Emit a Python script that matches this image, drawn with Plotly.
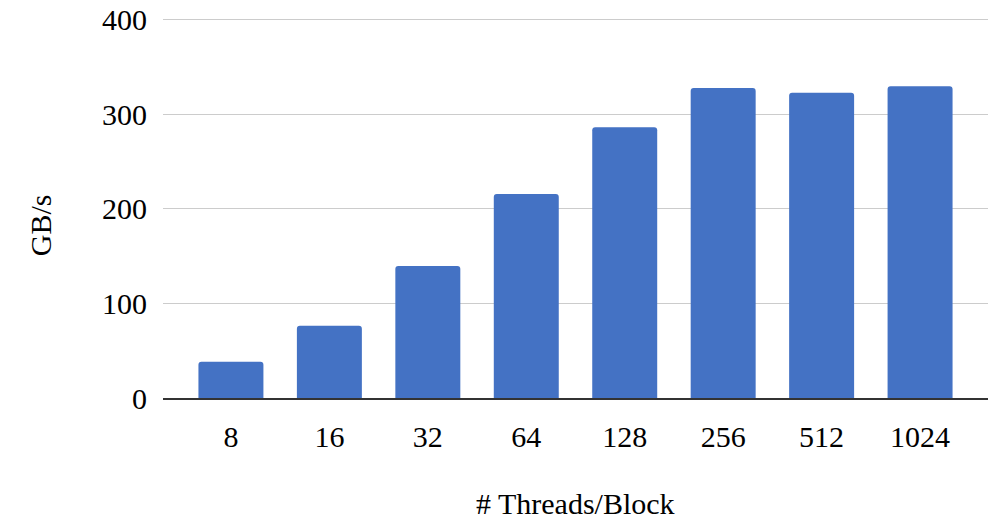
import plotly.graph_objects as go

categories = ["8", "16", "32", "64", "128", "256", "512", "1024"]
gbps = [38.4, 76.5, 139.7, 215.9, 286.4, 328.0, 322.8, 329.8]
y_ticks = [0, 100, 200, 300, 400]

FONT = "Liberation Serif, Times New Roman, serif"
FS = 30

fig = go.Figure()
fig.add_trace(go.Bar(
    x=list(range(len(categories))),
    y=gbps,
    width=0.66,
    marker=dict(color="#4472C4", cornerradius=3, line=dict(width=0)),
))

fig.update_layout(
    width=992, height=519,
    margin=dict(l=163, r=4, t=18, b=121, autoexpand=False),
    paper_bgcolor="white", plot_bgcolor="white",
    font=dict(family=FONT, size=FS, color="black"),
    showlegend=False,
)
fig.update_xaxes(
    tickmode="array", tickvals=list(range(len(categories))), ticktext=categories,
    range=[-0.69, 7.69], automargin=False,
    showgrid=False, zeroline=False,
    showline=True, linecolor="#333333", linewidth=2,
    ticks="", ticklabelstandoff=11,
    tickfont=dict(family=FONT, size=FS, color="black"),
)
fig.update_yaxes(
    range=[0, 402], tickvals=y_ticks, automargin=False,
    showgrid=True, gridcolor="#cccccc", gridwidth=1,
    zeroline=False, showline=False,
    ticks="", ticklabelstandoff=15,
    tickfont=dict(family=FONT, size=FS, color="black"),
)
fig.add_annotation(
    text="# Threads/Block", xref="paper", yref="paper",
    x=0.5, y=-0.278, xanchor="center", yanchor="middle",
    showarrow=False, font=dict(family=FONT, size=FS, color="black"),
)
fig.add_annotation(
    text="GB/s", xref="paper", yref="paper",
    x=-0.149, y=0.455, xanchor="center", yanchor="middle", textangle=-90,
    showarrow=False, font=dict(family=FONT, size=FS, color="black"),
)

fig.write_html(
    "out.html",
    config={"displayModeBar": False},
    post_script="document.body.style.margin='0';document.body.style.padding='0';",
)
